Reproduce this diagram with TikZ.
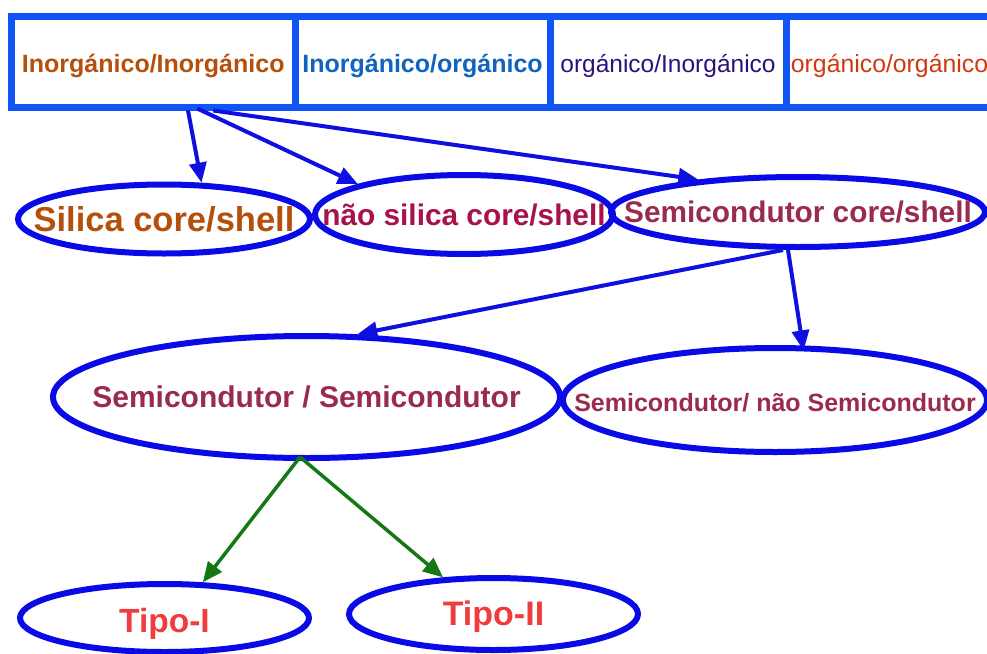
\documentclass[tikz,border=0pt]{standalone}
\usepackage{fontspec}
\setmainfont{Liberation Sans}
\usetikzlibrary{shapes.geometric,arrows.meta}
\definecolor{boxblue}{RGB}{15,85,245}
\definecolor{ovalblue}{RGB}{10,10,230}
\definecolor{arrowblue}{RGB}{15,15,225}
\definecolor{arrowgreen}{RGB}{20,120,20}
\definecolor{txtbrown}{RGB}{180,80,12}
\definecolor{txtblue}{RGB}{16,100,192}
\definecolor{txtindigo}{RGB}{45,16,128}
\definecolor{txtorange}{RGB}{210,56,15}
\definecolor{txtcrimson}{RGB}{168,18,74}
\definecolor{txtmaroon}{RGB}{153,43,79}
\definecolor{txtred}{RGB}{240,60,60}
\newcommand\mytext[3]{\makebox[0pt]{\fontsize{#1}{#1}\selectfont\color{#2}#3}}
\newcommand\lowtext[4]{\raisebox{#1}[0pt][0pt]{\mytext{#2}{#3}{#4}}}
\begin{document}
\begin{tikzpicture}[x=1pt,y=-1pt,
  topbox/.style={draw=boxblue,line width=7pt,rectangle,inner sep=0pt,minimum height=90.5pt},
  oval/.style={draw=ovalblue,line width=6pt,ellipse,inner sep=0pt},
  barrow/.style={draw=arrowblue,line width=4pt,-{Triangle[length=20pt,width=17pt]}},
  garrow/.style={draw=arrowgreen,line width=3.5pt,-{Triangle[length=20pt,width=17pt]}}]
\useasboundingbox (0,0) rectangle (987,653);

% top row of boxes
\node[topbox,minimum width=283.5pt] (b1) at (153.25,61.75)
  {\lowtext{-10.4pt}{25pt}{txtbrown}{\bfseries Inorgánico/Inorgánico}};
\node[topbox,minimum width=255pt] (b2) at (422.5,61.75)
  {\lowtext{-10.4pt}{25pt}{txtblue}{\bfseries Inorgánico/orgánico}};
\node[topbox,minimum width=236pt] (b3) at (668,61.75)
  {\lowtext{-10.4pt}{24.5pt}{txtindigo}{orgánico/Inorgánico}};
\node[topbox,minimum width=207pt] (b4) at (889.5,61.75)
  {\lowtext{-10.4pt}{24.8pt}{txtorange}{orgánico/orgánico}};

% second row
\node[oval,minimum width=292pt,minimum height=69pt] (silica) at (164,219)
  {\mytext{34.5pt}{txtbrown}{\bfseries Silica core/shell}};
\node[oval,minimum width=298pt,minimum height=79pt] (nsilica) at (464,214.5)
  {\mytext{29.8pt}{txtcrimson}{\bfseries não silica core/shell}};
\node[oval,minimum width=374pt,minimum height=70pt] (sc) at (798,212)
  {\mytext{29.8pt}{txtmaroon}{\bfseries Semicondutor core/shell}};

% third row
\node[oval,minimum width=507pt,minimum height=122pt] (ss) at (306.5,397)
  {\mytext{30pt}{txtmaroon}{\bfseries Semicondutor / Semicondutor}};
\node[oval,minimum width=424pt,minimum height=104pt] (sn) at (775,400)
  {\lowtext{-11.1pt}{25pt}{txtmaroon}{\bfseries Semicondutor/ não Semicondutor}};

% fourth row
\node[oval,minimum width=289pt,minimum height=68pt] (t1) at (164.5,618)
  {\lowtext{-14pt}{33.5pt}{txtred}{\bfseries Tipo-I}};
\node[oval,minimum width=289pt,minimum height=72pt] (t2) at (493.5,614)
  {\lowtext{-11.5pt}{34pt}{txtred}{\bfseries Tipo-II}};

% start points
\coordinate (s1) at ([xshift=34.75pt]b1.south);
\coordinate (s2) at ([xshift=44pt,yshift=2pt]b1.south);
\coordinate (s3) at ([xshift=60pt]b1.south);
\coordinate (s4) at ([xshift=-15pt]sc.south);
\coordinate (s5) at ([xshift=-10pt]sc.south);
\coordinate (g0) at ([xshift=-6.5pt,yshift=4pt]ss.south);

% connectors
\draw[barrow] (s1) -- (silica.44);
\draw[barrow] (s2) -- (nsilica.164);
\draw[barrow] (s3) -- (sc.162);
\draw[barrow] (s4) -- (ss.51);
\draw[barrow,shorten >=-5pt] (s5) -- (sn.63);
\draw[garrow] (g0) -- (t1.43);
\draw[garrow] (g0) -- (t2.144);
\end{tikzpicture}
\end{document}
